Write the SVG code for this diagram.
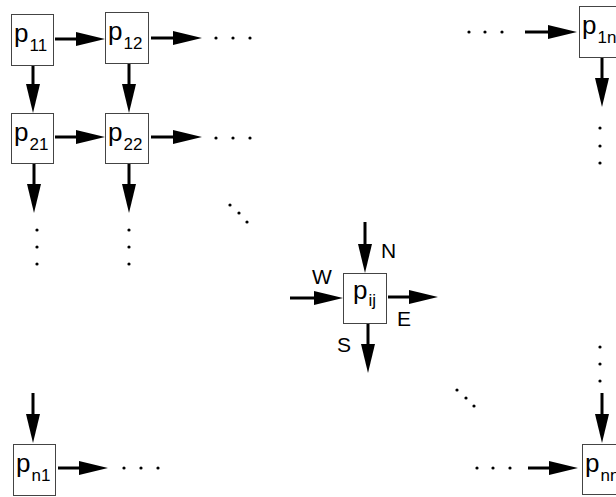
<svg xmlns="http://www.w3.org/2000/svg" width="616" height="497" viewBox="0 0 616 497">
<style>
.box{fill:#fff;stroke:#444;stroke-width:1}
.p{font-family:"Liberation Sans",Arial,sans-serif;font-size:26px;fill:#000}
.s{font-size:17px}
.lbl{font-family:"Liberation Sans",Arial,sans-serif;font-size:21px;fill:#000}
.ar{stroke:#000;stroke-width:3;fill:none;marker-end:url(#ah)}
.dot{fill:#000}
</style>
<defs>
<marker id="ah" viewBox="0 0 29 14" refX="1" refY="7" markerWidth="29" markerHeight="14" markerUnits="userSpaceOnUse" orient="auto">
<path d="M0,0 L29,7 L0,14 z" fill="#000"/>
</marker>
</defs>
<rect width="616" height="497" fill="#fff"/>
<g id="connectors">
<line class="ar" x1="55" y1="39" x2="77" y2="39"/>
<line class="ar" x1="151" y1="38" x2="174" y2="38"/>
<line class="ar" x1="55" y1="137" x2="77" y2="137"/>
<line class="ar" x1="151" y1="137" x2="174" y2="137"/>
<line class="ar" x1="525" y1="32" x2="549" y2="32"/>
<line class="ar" x1="290" y1="298" x2="315" y2="298"/>
<line class="ar" x1="388" y1="297" x2="410" y2="297"/>
<line class="ar" x1="58" y1="468" x2="80" y2="468"/>
<line class="ar" x1="528" y1="468" x2="550" y2="468"/>
<line class="ar" x1="33" y1="65" x2="33" y2="85"/>
<line class="ar" x1="129" y1="63" x2="129" y2="85"/>
<line class="ar" x1="34" y1="163" x2="34" y2="185"/>
<line class="ar" x1="129" y1="163" x2="129" y2="185"/>
<line class="ar" x1="602" y1="57" x2="602" y2="79"/>
<line class="ar" x1="365" y1="222" x2="365" y2="245"/>
<line class="ar" x1="368" y1="323" x2="368" y2="345"/>
<line class="ar" x1="33" y1="393" x2="33" y2="415"/>
<line class="ar" x1="602" y1="393" x2="602" y2="415"/>
</g>
<g id="dots">
<circle class="dot" cx="216" cy="38" r="1.6"/><circle class="dot" cx="233" cy="38" r="1.6"/><circle class="dot" cx="250" cy="38" r="1.6"/>
<circle class="dot" cx="216" cy="138" r="1.6"/><circle class="dot" cx="233" cy="138" r="1.6"/><circle class="dot" cx="250" cy="138" r="1.6"/>
<circle class="dot" cx="469" cy="32" r="1.6"/><circle class="dot" cx="485" cy="32" r="1.6"/><circle class="dot" cx="502" cy="32" r="1.6"/>
<circle class="dot" cx="37" cy="230" r="1.6"/><circle class="dot" cx="37" cy="247" r="1.6"/><circle class="dot" cx="37" cy="264" r="1.6"/>
<circle class="dot" cx="129" cy="230" r="1.6"/><circle class="dot" cx="129" cy="247" r="1.6"/><circle class="dot" cx="129" cy="264" r="1.6"/>
<circle class="dot" cx="230" cy="205" r="1.6"/><circle class="dot" cx="239" cy="213" r="1.6"/><circle class="dot" cx="247" cy="222" r="1.6"/>
<circle class="dot" cx="600" cy="128" r="1.6"/><circle class="dot" cx="600" cy="146" r="1.6"/><circle class="dot" cx="600" cy="163" r="1.6"/>
<circle class="dot" cx="124" cy="468" r="1.6"/><circle class="dot" cx="141" cy="468" r="1.6"/><circle class="dot" cx="158" cy="468" r="1.6"/>
<circle class="dot" cx="457" cy="390" r="1.6"/><circle class="dot" cx="466" cy="398" r="1.6"/><circle class="dot" cx="474" cy="406" r="1.6"/>
<circle class="dot" cx="600" cy="347" r="1.6"/><circle class="dot" cx="600" cy="364" r="1.6"/><circle class="dot" cx="600" cy="381" r="1.6"/>
<circle class="dot" cx="477" cy="468" r="1.6"/><circle class="dot" cx="493" cy="468" r="1.6"/><circle class="dot" cx="510" cy="468" r="1.6"/>
</g>
<g id="p11"><rect class="box" x="11.5" y="14.5" width="42" height="51"/><text class="p" x="14" y="42">p<tspan class="s" dx="1" dy="9">11</tspan></text></g>
<g id="p12"><rect class="box" x="105.5" y="12.5" width="43" height="51"/><text class="p" x="108" y="40">p<tspan class="s" dx="1" dy="9">12</tspan></text></g>
<g id="p21"><rect class="box" x="11.5" y="113.5" width="42" height="50"/><text class="p" x="14" y="141">p<tspan class="s" dx="1" dy="9">21</tspan></text></g>
<g id="p22"><rect class="box" x="105.5" y="113.5" width="43" height="50"/><text class="p" x="108" y="141">p<tspan class="s" dx="1" dy="9">22</tspan></text></g>
<g id="p1n"><rect class="box" x="579.5" y="6.5" width="43" height="51"/><text class="p" x="582" y="34">p<tspan class="s" dx="1" dy="9">1n</tspan></text></g>
<g id="pij"><rect class="box" x="343.5" y="273.5" width="43" height="50"/><text class="p" x="353" y="299">p<tspan class="s" dx="1" dy="7">ij</tspan></text>
<text class="lbl" x="381" y="258">N</text><text class="lbl" x="312" y="284">W</text><text class="lbl" x="397" y="326">E</text><text class="lbl" x="337" y="352">S</text></g>
<g id="pn1"><rect class="box" x="13.5" y="444.5" width="42" height="51"/><text class="p" x="16" y="472">p<tspan class="s" dx="1" dy="9">n1</tspan></text></g>
<g id="pnn"><rect class="box" x="582.5" y="444.5" width="43" height="50"/><text class="p" x="585" y="472">p<tspan class="s" dx="1" dy="9">nn</tspan></text></g>
</svg>
